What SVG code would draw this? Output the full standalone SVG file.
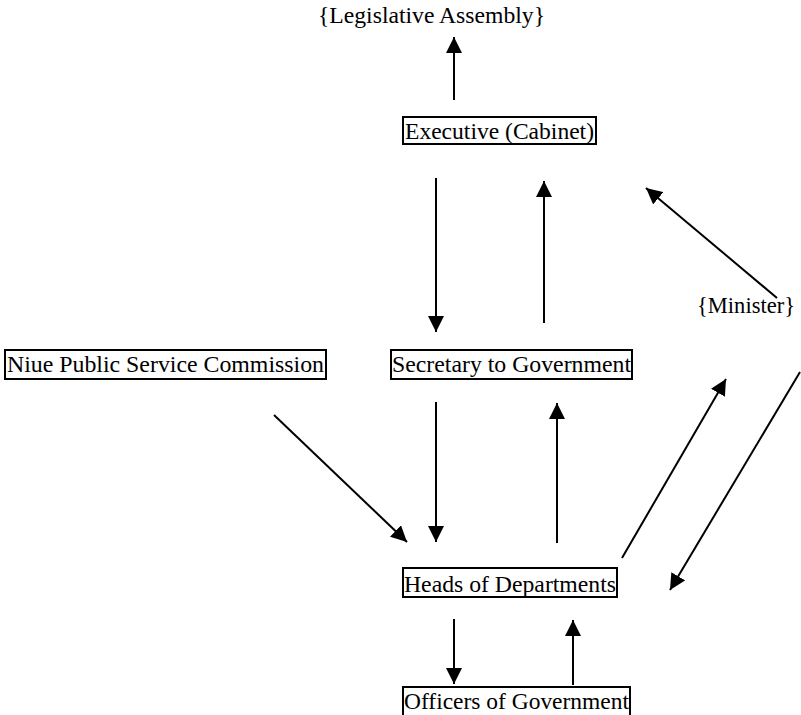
<svg xmlns="http://www.w3.org/2000/svg" width="801" height="715" viewBox="0 0 801 715">
<style>
.t{font-family:"Liberation Serif","Times New Roman",serif;font-size:24px;fill:#000}
.b{fill:none;stroke:#000;stroke-width:2}
.c{stroke:#000;stroke-width:2;fill:none;marker-end:url(#ah)}
</style>
<defs>
<marker id="ah" markerUnits="userSpaceOnUse" markerWidth="16" markerHeight="16" refX="16" refY="8" orient="auto" viewBox="0 0 16 16">
<path d="M0,0 L16,8 L0,16 z" fill="#000"/>
</marker>
</defs>
<rect width="801" height="715" fill="#fff"/>
<g id="legislative">
<text class="t" x="318" y="23" textLength="227" lengthAdjust="spacingAndGlyphs">{Legislative Assembly}</text>
</g>
<g id="executive">
<rect class="b" x="403" y="117" width="193" height="27"/>
<text class="t" x="405" y="139" textLength="189" lengthAdjust="spacingAndGlyphs">Executive (Cabinet)</text>
</g>
<g id="minister">
<text class="t" x="697" y="313" textLength="98" lengthAdjust="spacingAndGlyphs">{Minister}</text>
</g>
<g id="niue">
<rect class="b" x="5" y="350" width="321" height="29"/>
<text class="t" x="7" y="372" textLength="317" lengthAdjust="spacingAndGlyphs">Niue Public Service Commission</text>
</g>
<g id="secretary">
<rect class="b" x="391" y="350" width="241" height="29"/>
<text class="t" x="392" y="372" textLength="239" lengthAdjust="spacingAndGlyphs">Secretary to Government</text>
</g>
<g id="heads">
<rect class="b" x="403" y="568" width="214" height="29"/>
<text class="t" x="404" y="592" textLength="212" lengthAdjust="spacingAndGlyphs">Heads of Departments</text>
</g>
<g id="officers">
<rect class="b" x="403" y="687" width="227" height="32"/>
<text class="t" x="404" y="709" textLength="225" lengthAdjust="spacingAndGlyphs">Officers of Government</text>
</g>
<g id="connectors">
<line class="c" x1="454" y1="100" x2="454" y2="37"/>
<line class="c" x1="436" y1="178" x2="436" y2="332"/>
<line class="c" x1="544" y1="323" x2="544" y2="181"/>
<line class="c" x1="777" y1="298" x2="646" y2="188"/>
<line class="c" x1="274" y1="415" x2="407" y2="542"/>
<line class="c" x1="436" y1="402" x2="436" y2="542"/>
<line class="c" x1="557" y1="543" x2="557" y2="403"/>
<line class="c" x1="622" y1="558" x2="726" y2="379"/>
<line class="c" x1="800" y1="372" x2="670" y2="590"/>
<line class="c" x1="454" y1="619" x2="454" y2="684"/>
<line class="c" x1="573" y1="685" x2="573" y2="620"/>
</g>
</svg>
